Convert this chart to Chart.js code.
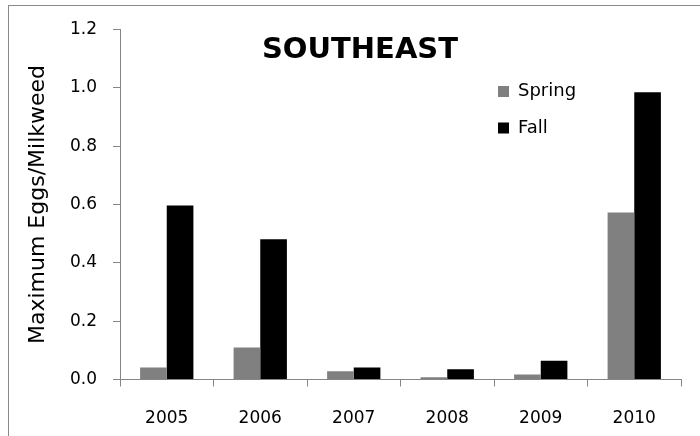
<!DOCTYPE html>
<html>
<head>
<meta charset="utf-8">
<script src="https://cdn.jsdelivr.net/npm/chart.js@4.4.1/dist/chart.umd.min.js"></script>
<style>
  html, body { margin: 0; padding: 0; background: #fff; overflow: hidden; }
  #wrap { position: relative; width: 700px; height: 436px; overflow: hidden; }
  #frame { position: absolute; left: 8px; top: 5px; width: 800px; height: 800px; border: 1px solid #8a8a8a; box-sizing: border-box; }
  #c { position: absolute; left: 0; top: 0; }
</style>
</head>
<body>
<div id="wrap">
  <div id="frame"></div>
  <canvas id="c" width="700" height="436"></canvas>
</div>
<script>
const chartTitle = "SOUTHEAST";
const yAxisTitle = "Maximum Eggs/Milkweed";
const categories = ["2005", "2006", "2007", "2008", "2009", "2010"];
const seriesNames = ["Spring", "Fall"];
const springValues = [0.041, 0.11, 0.028, 0.008, 0.017, 0.573];
const fallValues = [0.597, 0.481, 0.041, 0.035, 0.064, 0.985];
const seriesColors = ["#808080", "#000000"];

const FONT = "'DejaVu Sans', sans-serif";
const AXIS = "#868686";

const overlayPlugin = {
  id: "overlay",
  afterDraw(chart) {
    const ctx = chart.ctx;
    const a = chart.chartArea;
    ctx.save();
    // Title
    ctx.fillStyle = "#000";
    ctx.font = "bold 29px " + FONT;
    ctx.textAlign = "center";
    ctx.textBaseline = "alphabetic";
    ctx.fillText(chartTitle, a.left + 240, a.top + 28);
    // Legend
    ctx.font = "18px " + FONT;
    ctx.textAlign = "left";
    ctx.textBaseline = "middle";
    chart.data.datasets.forEach((ds, i) => {
      const y = a.top + 62 + i * 36.5;
      ctx.fillStyle = ds.backgroundColor;
      ctx.fillRect(a.left + 378, y - 5.5, 11, 11);
      ctx.fillStyle = "#000";
      ctx.fillText(ds.label, a.left + 398, y);
    });
    ctx.restore();
  }
};

new Chart(document.getElementById("c"), {
  type: "bar",
  data: {
    labels: categories,
    datasets: [
      { label: seriesNames[0], data: springValues, backgroundColor: seriesColors[0] },
      { label: seriesNames[1], data: fallValues, backgroundColor: seriesColors[1] }
    ]
  },
  options: {
    responsive: false,
    animation: false,
    devicePixelRatio: 1,
    layout: { padding: { left: 0, top: 29.5, right: 19, bottom: 0 } },
    datasets: { bar: { categoryPercentage: 0.57, barPercentage: 1.0, borderWidth: 0 } },
    plugins: {
      legend: { display: false },
      title: { display: false },
      tooltip: { enabled: false }
    },
    scales: {
      x: {
        offset: true,
        grid: { display: true, drawOnChartArea: false, drawTicks: true, tickLength: 7, color: AXIS, offset: true },
        border: { display: true, color: AXIS, width: 1 },
        ticks: { color: "#000", font: { family: FONT, size: 17 }, padding: 22, maxRotation: 0 },
        afterFit(scale) { scale.height = 56.5; }
      },
      y: {
        min: 0,
        max: 1.2,
        grid: { display: true, drawOnChartArea: false, drawTicks: true, tickLength: 7, color: AXIS },
        border: { display: true, color: AXIS, width: 1 },
        ticks: {
          stepSize: 0.2,
          color: "#000",
          font: { family: FONT, size: 17 },
          padding: 16,
          callback: (v) => Number(v).toFixed(1)
        },
        title: {
          display: true,
          text: yAxisTitle,
          color: "#000",
          font: { family: FONT, size: 22 },
          padding: { top: 25, bottom: 0 }
        },
        afterFit(scale) { scale.width = 120; }
      }
    }
  },
  plugins: [overlayPlugin]
});
</script>
</body>
</html>
